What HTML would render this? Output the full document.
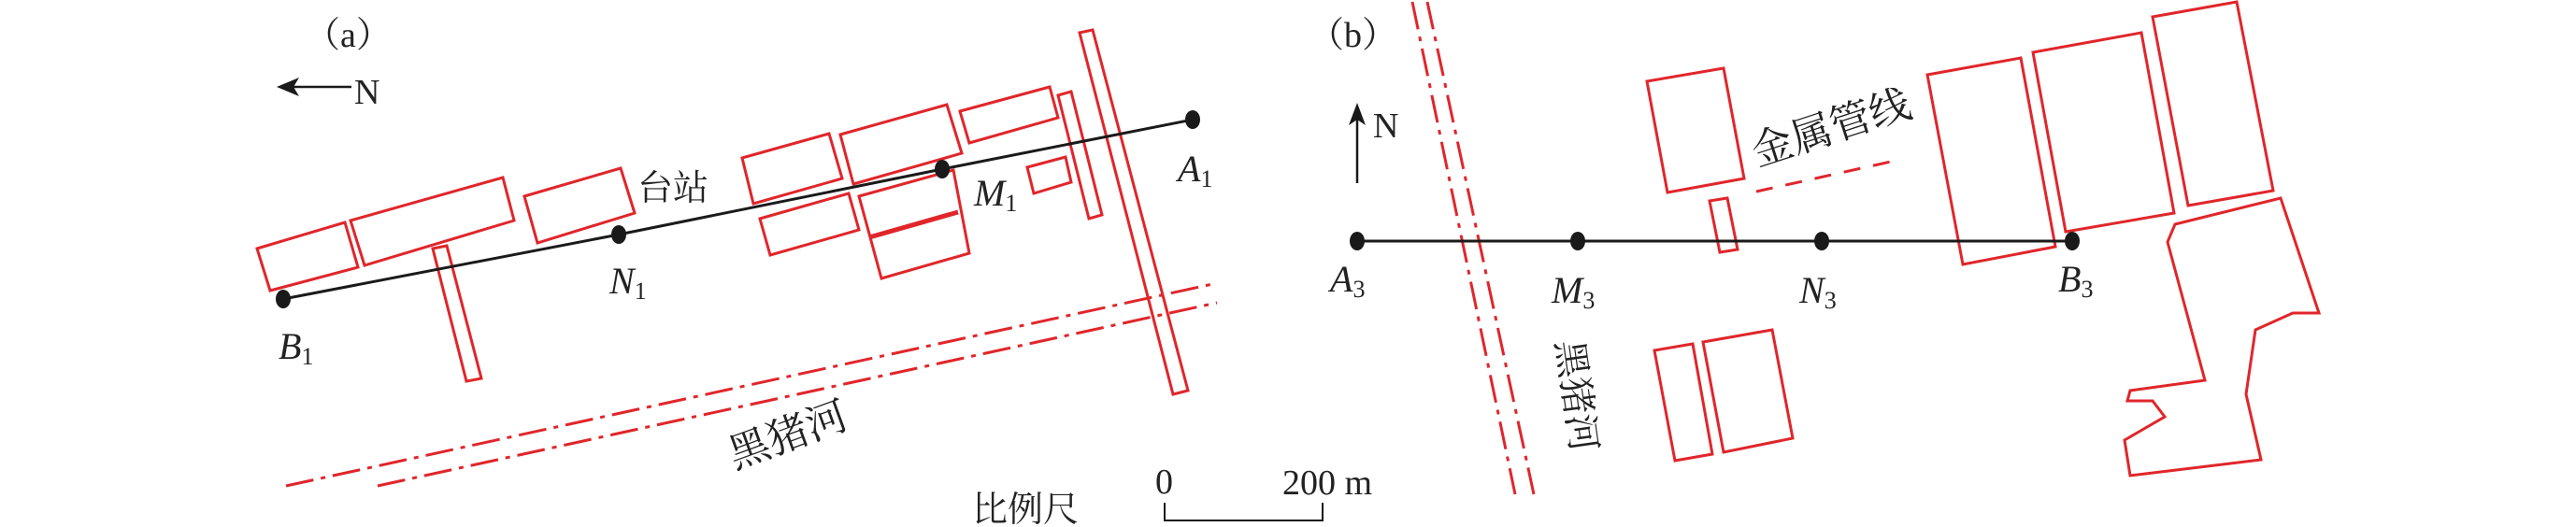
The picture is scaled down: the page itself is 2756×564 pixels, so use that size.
<!DOCTYPE html>
<html><head><meta charset="utf-8"><style>
html,body{margin:0;padding:0;background:#fff;}
svg{display:block;}
text{font-family:"Liberation Serif","Noto Serif CJK SC",serif;fill:#222;}
.cj{font-family:"Liberation Serif","Noto Serif CJK SC","Noto Sans CJK SC",serif;}
</style></head><body>
<svg width="2756" height="564" viewBox="0 0 2756 564" xmlns="http://www.w3.org/2000/svg">
<g fill="none" stroke="#e0262b" stroke-width="3" stroke-linejoin="miter">
<polygon points="275,266 369,238 383,286 289,311"/>
<polygon points="375,236 538,190 550,236 390,284"/>
<polygon points="561,210 664,180 679,228 575,260"/>
<polygon points="463,266 478,263 515,405 499,408"/>
<polygon points="794,169 887,143 901,191 806,218"/>
<polygon points="899,144 1013,112 1029,164 913,197"/>
<polygon points="1027,119 1123,93 1132,126 1037,153"/>
<polygon points="813,234 908,207 919,246 824,273"/>
<polygon points="919,210 1020,182 1037,271 943,298"/>
<line x1="930" y1="254" x2="1025" y2="227" stroke-width="5"/>
<polygon points="1099,179 1140,168 1146,195 1106,207"/>
<polygon points="1132,102 1146,98 1179,230 1165,234"/>
<polygon points="1155,35 1169,32 1271,418 1255,422"/>
<g stroke-dasharray="30,8,5,8">
<line x1="306" y1="520" x2="1302" y2="303"/>
<line x1="404" y1="520" x2="1302" y2="324"/>
</g>
<g stroke-dasharray="30,8,5,8">
<line x1="1511" y1="2" x2="1621" y2="529"/>
<line x1="1527" y1="2" x2="1641" y2="529"/>
</g>
<line x1="1879" y1="205" x2="2023" y2="173" stroke-dasharray="18,14"/>
<polygon points="1762,87 1844,73 1866,191 1784,206"/>
<polygon points="1829,215 1848,212 1859,267 1840,270"/>
<polygon points="2062,80 2162,62 2199,264 2100,283"/>
<polygon points="2175,56 2291,35 2326,228 2210,248"/>
<polygon points="2303,18 2393,2 2432,204 2341,220"/>
<polygon points="1770,375 1811,368 1832,486 1792,493"/>
<polygon points="1822,366 1896,353 1918,469 1844,484"/>
<polygon points="2327,240 2440,212 2481,335 2453,335 2413,353 2403,422 2419,492 2279,509 2273,471 2316,446 2303,429 2276,429 2279,418 2359,407 2319,259"/>
</g>
<g stroke="#1a1a1a" stroke-width="3" fill="none">
<polyline points="303,320 662,251 1008,181 1276,128"/>
<line x1="1452" y1="258" x2="2217" y2="258"/>
<line x1="312" y1="93" x2="376" y2="93" stroke-width="2.5"/>
<line x1="1452" y1="196" x2="1452" y2="126" stroke-width="2.5"/>
<polyline points="1246,538 1246,557 1415,557 1415,538" stroke-width="2"/>
</g>
<g fill="#1a1a1a">
<polygon points="296,93 320,83 314,93 320,103"/>
<polygon points="1452,110 1443,134 1452,128 1461,134"/>
<ellipse cx="303" cy="320" rx="8" ry="10"/>
<ellipse cx="662" cy="251" rx="8" ry="10"/>
<ellipse cx="1008" cy="181" rx="8" ry="10"/>
<ellipse cx="1276" cy="128" rx="8" ry="10"/>
<ellipse cx="1452" cy="258" rx="8" ry="10"/>
<ellipse cx="1688" cy="258" rx="8" ry="10"/>
<ellipse cx="1949" cy="258" rx="8" ry="10"/>
<ellipse cx="2217" cy="258" rx="8" ry="10"/>
</g>
<g font-size="38">
<text x="326" y="50" class="cj">（a）</text>
<text x="1400" y="50" class="cj">（b）</text>
<text x="379" y="111">N</text>
<text x="1469" y="147">N</text>
<text x="682" y="214" class="cj">台站</text>
<text x="1236" y="528">0</text>
<text x="1372" y="529">200 m</text>
<text x="1040" y="558" class="cj">比例尺</text>
</g>
<g font-size="40" font-style="italic">
<text x="298" y="384">B<tspan font-size="26" font-style="normal" dy="6">1</tspan></text>
<text x="652" y="314">N<tspan font-size="26" font-style="normal" dy="6">1</tspan></text>
<text x="1042" y="220">M<tspan font-size="26" font-style="normal" dy="6">1</tspan></text>
<text x="1260" y="194">A<tspan font-size="26" font-style="normal" dy="6">1</tspan></text>
<text x="1423" y="312">A<tspan font-size="26" font-style="normal" dy="6">3</tspan></text>
<text x="1660" y="324">M<tspan font-size="26" font-style="normal" dy="6">3</tspan></text>
<text x="1925" y="324">N<tspan font-size="26" font-style="normal" dy="6">3</tspan></text>
<text x="2202" y="312">B<tspan font-size="26" font-style="normal" dy="6">3</tspan></text>
</g>
<text class="cj" font-size="44" transform="translate(786,502) rotate(-20)">黑猪河</text>
<text class="cj" font-size="44" transform="translate(1880,178) rotate(-18)">金属管线</text>
<text class="cj" font-size="40" transform="translate(1665,366) rotate(82)">黑猪河</text>
</svg>
</body></html>
